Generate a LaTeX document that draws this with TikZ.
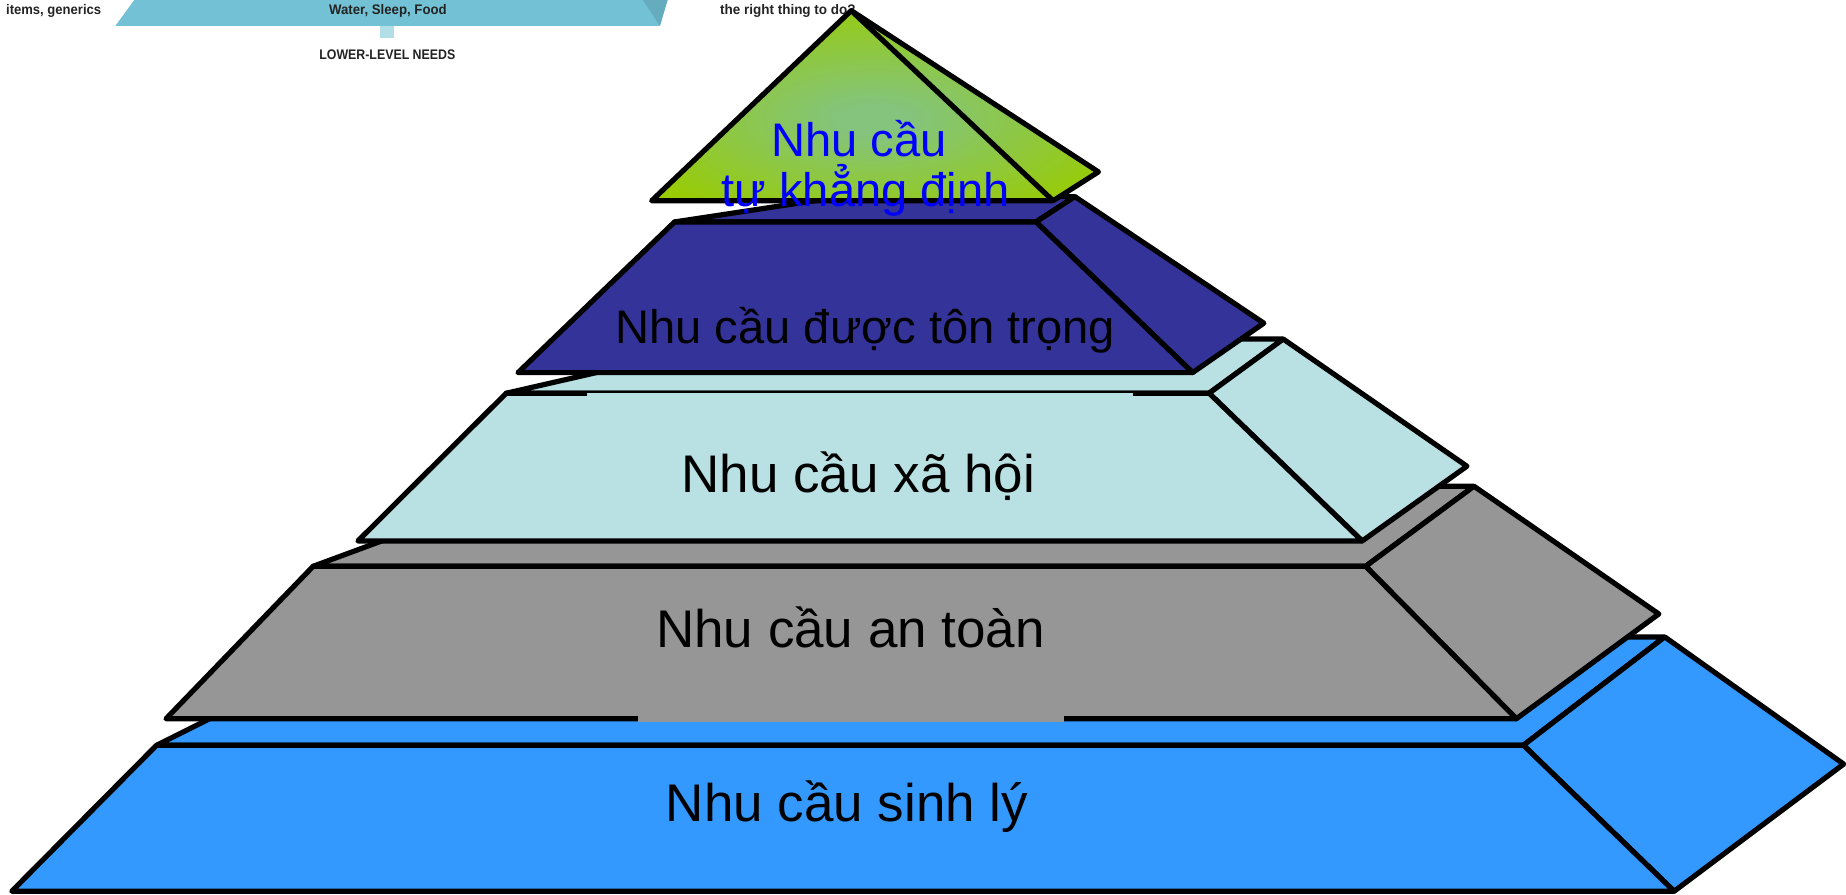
\documentclass[tikz,border=0pt]{standalone}
\usepackage{fontspec}
\usepackage{graphicx}
\setmainfont{Liberation Sans}

% Tier colours
\definecolor{tierblue}{RGB}{51,153,255}
\definecolor{tiergray}{RGB}{150,150,150}
\definecolor{tiercyan}{RGB}{185,224,227}
\definecolor{tierpurple}{RGB}{51,51,153}
\definecolor{greenface}{RGB}{153,204,0}
\definecolor{glowin}{RGB}{132,196,124}
\definecolor{labelblue}{RGB}{0,0,255}
% Colours of the strip in the upper left corner
\definecolor{stripcyan}{RGB}{115,193,212}
\definecolor{stripdark}{RGB}{100,172,190}
\definecolor{stripbar}{RGB}{178,222,232}
\definecolor{striptext}{RGB}{35,35,35}

% Soft glow on the green apex
\pgfdeclareradialshading{apexglow}{\pgfpoint{0bp}{-4bp}}{%
  color(0bp)=(glowin); color(4bp)=(glowin);
  color(32bp)=(greenface); color(50bp)=(greenface)}

\begin{document}
\begin{tikzpicture}[x=1pt,y=-1pt,
  tier/.style={draw=black, line width=4.4pt, line join=round},
  tierlabel/.style={font=\fontsize{45}{50}\selectfont, text=black, inner sep=0pt, anchor=base},
  toplabel/.style={font=\fontsize{40}{44}\selectfont, text=labelblue, inner sep=0pt, anchor=base},
  striplabel/.style={font=\fontsize{11.8}{12}\selectfont\bfseries, text=striptext, inner sep=0pt}]
\useasboundingbox (0,0) rectangle (1568,760);

% ---- strip in the upper left corner ----
\fill[stripcyan] (114,0) -- (567,0) -- (560.5,22) -- (98,22) -- cycle;
\fill[stripdark] (546,0) -- (567,0) -- (560.5,22) -- cycle;
\fill[stripbar] (323,22) rectangle (335,32);
\node[striplabel, anchor=base west] (items) at (5,12) {\scalebox{0.94}[1]{items, generics}};
\node[striplabel, anchor=base] (water) at (329.5,12) {\scalebox{0.95}[1]{Water, Sleep, Food}};
\node[striplabel, anchor=base] (lower) at (329,50.5) {\scalebox{0.89}[1]{LOWER-LEVEL NEEDS}};
\node[striplabel, anchor=base west] (right) at (611.5,12) {\scalebox{0.97}[1]{the right thing to do?}};

% ---- tier 1: blue base ----
\filldraw[tier, fill=tierblue] (133,633) -- (317,541) -- (1414,541) -- (1294,633) -- cycle;
\filldraw[tier, fill=tierblue] (1294,633) -- (1414,541) -- (1566,649) -- (1422,757) -- cycle;
\filldraw[tier, fill=tierblue] (10,757) -- (133,633) -- (1294,633) -- (1422,757) -- cycle;

% ---- tier 2: gray ----
\filldraw[tier, fill=tiergray] (266,481) -- (450,413) -- (1252,413) -- (1160,481) -- cycle;
\filldraw[tier, fill=tiergray] (1160,481) -- (1252,413) -- (1409,521.5) -- (1288,610.5) -- cycle;
\filldraw[tier, fill=tiergray] (141,610.5) -- (266,481) -- (1160,481) -- (1288,610.5) -- cycle;
\fill[tiergray] (541.6,606) rectangle (903.8,613.3);

% ---- tier 3: light cyan ----
\filldraw[tier, fill=tiercyan] (430,334) -- (631,288) -- (1090,288) -- (1027,334) -- cycle;
\filldraw[tier, fill=tiercyan] (1027,334) -- (1090,288) -- (1246,396) -- (1157,459.5) -- cycle;
\filldraw[tier, fill=tiercyan] (304,459.5) -- (430,334) -- (1027,334) -- (1157,459.5) -- cycle;
\fill[tiercyan] (499,334) rectangle (962,336.6);

% ---- tier 4: purple ----
\filldraw[tier, fill=tierpurple] (573,188.5) -- (715,167) -- (913,167) -- (880,188.5) -- cycle;
\filldraw[tier, fill=tierpurple] (880,188.5) -- (913,167) -- (1073.5,274.5) -- (1013,316.5) -- cycle;
\filldraw[tier, fill=tierpurple] (440,316.5) -- (573,188.5) -- (880,188.5) -- (1013,316.5) -- cycle;

% ---- tier 5: green apex ----
\shade[shading=apexglow] (553.5,170.5) -- (723,9) -- (933,146) -- (894.5,170.5) -- cycle;
\draw[tier] (553.5,170.5) -- (723,9) -- (894.5,170.5) -- cycle;
\draw[tier] (723,9) -- (933,146) -- (894.5,170.5);

% ---- labels ----
\node[tierlabel] (sinhly) at (719.5,698) {Nhu cầu sinh lý};
\node[tierlabel] (antoan) at (722.5,550) {Nhu cầu an toàn};
\node[tierlabel] (xahoi) at (729,418) {Nhu cầu xã hội};
\node[tierlabel, font=\fontsize{40}{44}\selectfont] (tontrong) at (735,292) {Nhu cầu được tôn trọng};
\node[toplabel] (khangdinhA) at (729.6,133) {Nhu cầu};
\node[toplabel] (khangdinhB) at (735.4,175.6) {tự khẳng định};
\end{tikzpicture}
\end{document}
